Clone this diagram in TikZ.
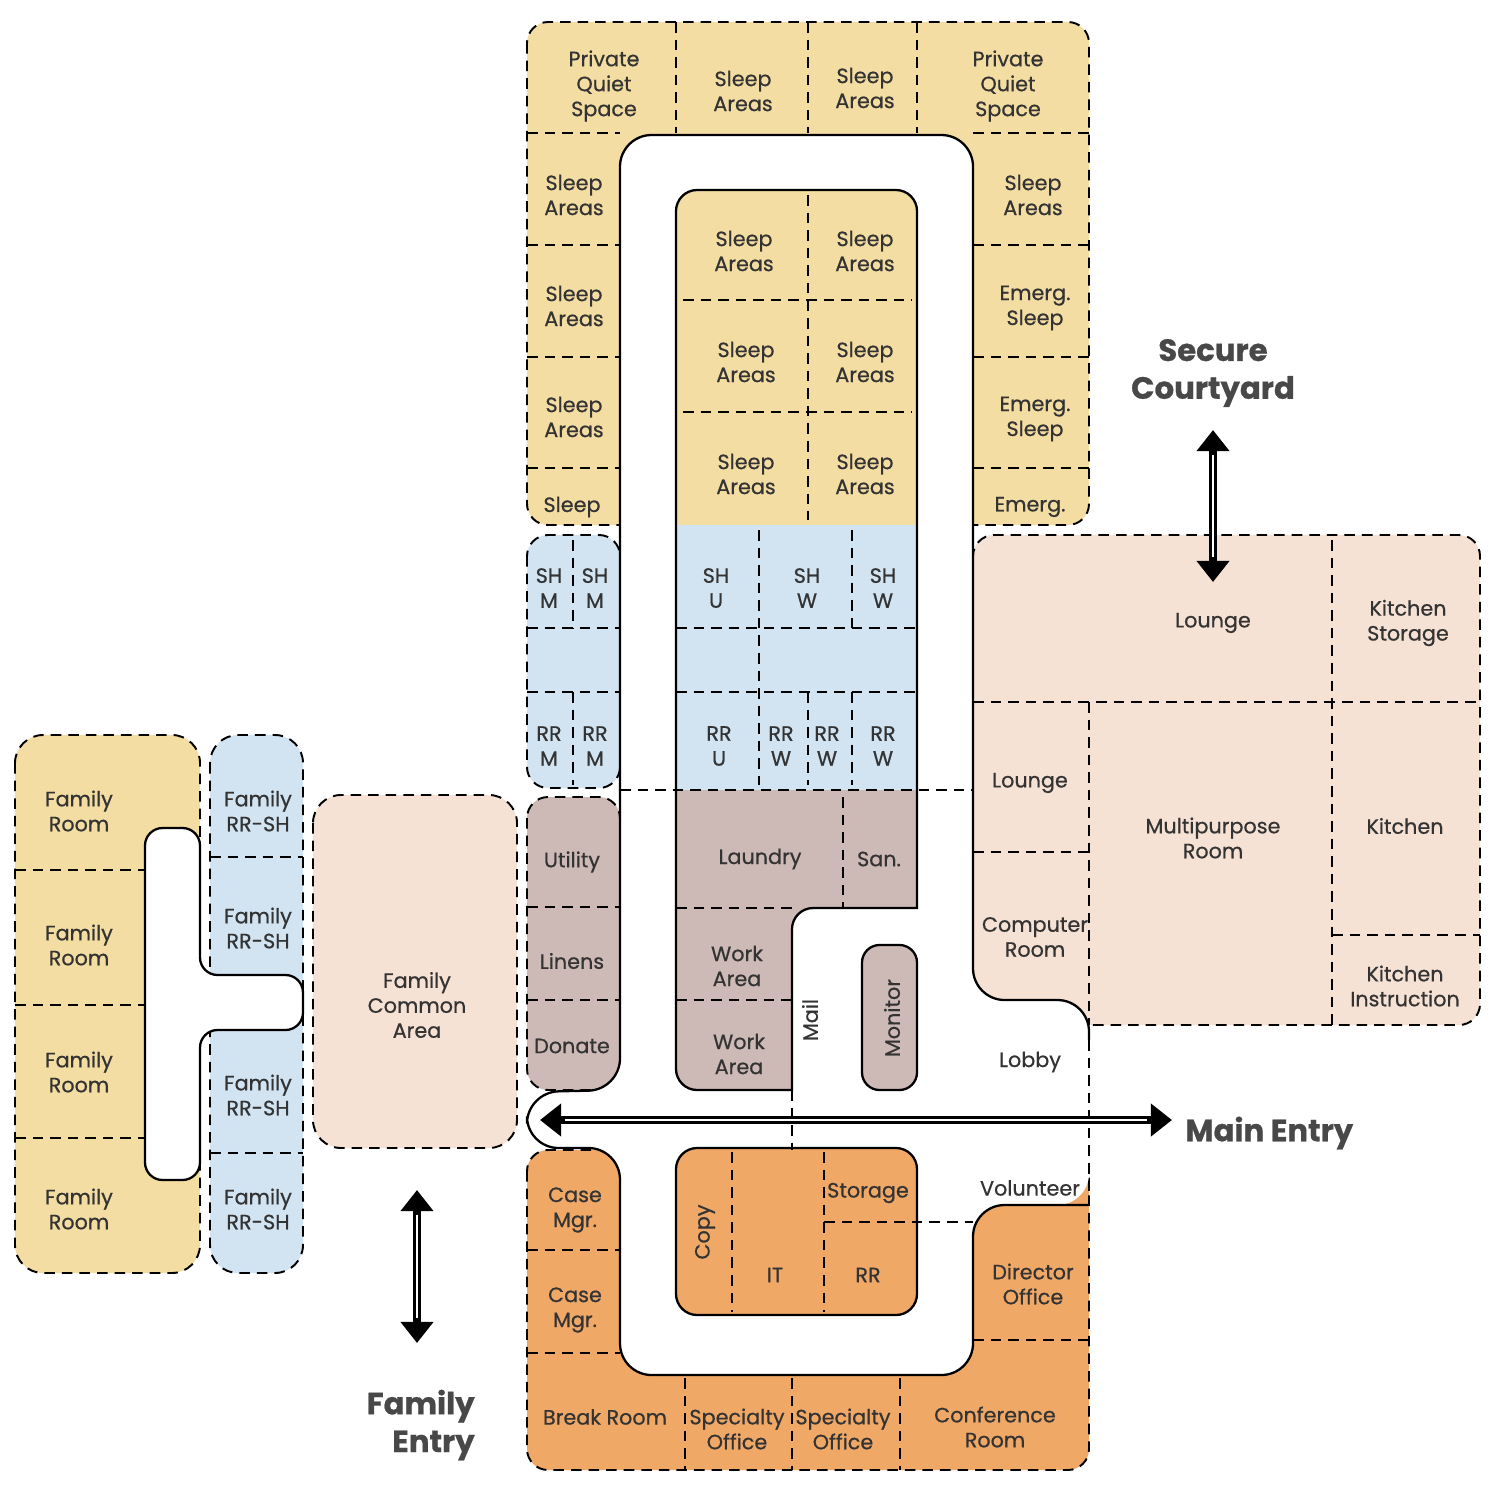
\documentclass[tikz,border=0pt]{standalone}
\usepackage{fontspec}
\setmainfont{Poppins}[FakeBold=0.6]
\usetikzlibrary{arrows.meta}
\definecolor{yel}{HTML}{F4DDA2}
\definecolor{blu}{HTML}{D2E4F2}
\definecolor{pch}{HTML}{F6E1D5}
\definecolor{brn}{HTML}{CDBAB6}
\definecolor{org}{HTML}{F0A867}
\definecolor{txt}{HTML}{333333}
\definecolor{hd}{HTML}{484848}
\begin{document}
\begin{tikzpicture}[x=0.02cm,y=-0.02cm,
 dl/.style={line width=1.1pt,dash pattern=on 6pt off 4pt},
 sl/.style={line width=1.3pt},
 room/.style={font=\fontsize{11.8}{14.2}\selectfont, text=txt, align=center, inner sep=0pt},
 head/.style={font=\fontsize{17.5}{21.5}\selectfont\bfseries, text=hd, align=center, inner sep=0pt},
 rc/.style={rounded corners=12pt},
 dar/.style={line width=4.5pt, {Triangle[width=18pt,length=12pt]}-{Triangle[width=18pt,length=12pt]}},
 dari/.style={white, line width=1.6pt, shorten <=14pt, shorten >=14pt}]
\useasboundingbox (0,0) rectangle (1500,1487);
% outer blocks
\fill[yel,rc] (527,22) rectangle (1089,525);
\draw[dl,rc] (527,22) rectangle (1089,525);
\fill[blu,rc] (527,535) rectangle (620,788);
\draw[dl,rc] (527,535) rectangle (620,788);
\fill[brn,rc] (527,797) rectangle (620,1090);
\draw[dl,rc] (527,797) rectangle (620,1090);
\fill[pch,rc] (973,535) rectangle (1480,1025);
\draw[dl,rc] (973,535) rectangle (1480,1025);
\fill[org,rc] (527,1150) rectangle (1089,1470);
\draw[dl,rc] (527,1150) rectangle (1089,1470);
% family wing
\fill[yel,rounded corners=16pt] (15,735) rectangle (200,1273);
\draw[dl,rounded corners=16pt] (15,735) rectangle (200,1273);
\fill[blu,rounded corners=16pt] (210,735) rectangle (303,1273);
\draw[dl,rounded corners=16pt] (210,735) rectangle (303,1273);
\fill[pch,rounded corners=16pt] (313,795) rectangle (517,1148);
\draw[dl,rounded corners=16pt] (313,795) rectangle (517,1148);
\filldraw[fill=white,sl,rounded corners=10pt] (145,1180) -- (145,828) -- (200,828) -- (200,975) -- (303,975) -- (303,1030) -- (200,1030) -- (200,1180) -- cycle;
\draw[dl] (15,870) -- (145,870) (15,1005) -- (145,1005) (15,1138) -- (145,1138);
\draw[dl] (210,857) -- (303,857) (210,1153) -- (303,1153);
% corridor
\fill[white,rounded corners=18pt] (620,1090) -- (620,135) -- (973,135) -- (973,1000) -- (1089,1000) -- (1089,1205) -- (973,1205) -- (973,1375) -- (620,1375) -- (620,1148) -- (527,1148) -- (527,1092) -- cycle;
\draw[sl,rounded corners=18pt] (1089,1040) -- (1089,1000) -- (973,1000) -- (973,135) -- (620,135) -- (620,1090) -- (527,1092) -- (527,1148) -- (620,1148) -- (620,1375) -- (973,1375) -- (973,1205) -- (1089,1205);
% north island
\def\islandpath{(740,1090) [rounded corners=12pt] -- (676,1090) -- (676,190) -- (917,190) [sharp corners] -- (917,908) [rounded corners=12pt] -- (792,908) [sharp corners] -- (792,1090) -- cycle}
\begin{scope}
\clip \islandpath;
\fill[yel] (676,190) rectangle (917,525);
\fill[blu] (676,525) rectangle (917,790);
\fill[brn] (676,790) rectangle (917,1090);
\end{scope}
\draw[sl] \islandpath;
\filldraw[fill=brn,sl,rounded corners=10pt] (862,945) rectangle (917,1090);
% south island
\filldraw[fill=org,sl,rc] (676,1148) rectangle (917,1315);
% dashed partitions
\draw[dl] (527,133) -- (620,133) (973,133) -- (1089,133) (676,22) -- (676,133) (808,22) -- (808,133) (917,22) -- (917,133);
\draw[dl] (527,245) -- (620,245) (527,357) -- (620,357) (527,468) -- (620,468);
\draw[dl] (973,245) -- (1089,245) (973,357) -- (1089,357) (973,468) -- (1089,468);
\draw[dl] (683,300) -- (912,300) (683,412) -- (912,412) (808,195) -- (808,520);
\draw[dl] (527,628) -- (620,628) (527,692) -- (620,692) (573,540) -- (573,628) (573,692) -- (573,785);
\draw[dl] (676,628) -- (917,628) (676,692) -- (917,692) (759,530) -- (759,785) (852,530) -- (852,628) (852,692) -- (852,785) (808,692) -- (808,785);
\draw[dl] (620,790) -- (973,790);
\draw[dl] (527,907) -- (620,907) (527,1000) -- (620,1000);
\draw[dl] (843,797) -- (843,908) (676,908) -- (792,908) (676,1000) -- (792,1000) (792,1090) -- (792,1150);
\draw[dl] (1332,540) -- (1332,1025) (973,702) -- (1480,702) (1089,702) -- (1089,1025) (973,852) -- (1089,852) (1332,935) -- (1480,935) (1089,1040) -- (1089,1205);
\draw[dl] (527,1250) -- (620,1250) (527,1353) -- (620,1353) (685,1378) -- (685,1470) (792,1378) -- (792,1470) (900,1378) -- (900,1470) (973,1340) -- (1089,1340);
\draw[dl] (732,1152) -- (732,1312) (824,1152) -- (824,1312) (824,1222) -- (973,1222);
% labels
\node[room] (pq1) at (604,86) {Private\\Quiet\\Space};
\node[room] (s1) at (743,91) {Sleep\\Areas};
\node[room] (s2) at (865,88) {Sleep\\Areas};
\node[room] (pq2) at (1008,86) {Private\\Quiet\\Space};
\node[room] (sl1) at (574,195) {Sleep\\Areas};
\node[room] (sl2) at (574,306) {Sleep\\Areas};
\node[room] (sl3) at (574,417) {Sleep\\Areas};
\node[room] (sl4) at (572,507) {Sleep};
\node[room] (sr1) at (1033,195) {Sleep\\Areas};
\node[room] (er1) at (1035,308) {Emerg.\\Sleep};
\node[room] (er2) at (1035,419) {Emerg.\\Sleep};
\node[room] (er3) at (1030,507) {Emerg.};
\node[room] (i1) at (744,251) {Sleep\\Areas};
\node[room] (i2) at (865,251) {Sleep\\Areas};
\node[room] (i3) at (746,362) {Sleep\\Areas};
\node[room] (i4) at (865,362) {Sleep\\Areas};
\node[room] (i5) at (746,474) {Sleep\\Areas};
\node[room] (i6) at (865,474) {Sleep\\Areas};
\node[room] (b1) at (549,588) {SH\\M};
\node[room] (b2) at (595,588) {SH\\M};
\node[room] (b3) at (549,746) {RR\\M};
\node[room] (b4) at (595,746) {RR\\M};
\node[room] (b5) at (716,588) {SH\\U};
\node[room] (b6) at (807,588) {SH\\W};
\node[room] (b7) at (883,588) {SH\\W};
\node[room] (b8) at (719,746) {RR\\U};
\node[room] (b9) at (781,746) {RR\\W};
\node[room] (b10) at (827,746) {RR\\W};
\node[room] (b11) at (883,746) {RR\\W};
\node[room] (u1) at (572,862) {Utility};
\node[room] (u2) at (572,961) {Linens};
\node[room] (u3) at (572,1046) {Donate};
\node[room] (u4) at (760,859) {Laundry};
\node[room] (u5) at (879,859) {San.};
\node[room] (u6) at (737,966) {Work\\Area};
\node[room] (u7) at (739,1054) {Work\\Area};
\node[room,rotate=90] (u8) at (810,1020) {Mail};
\node[room,rotate=90] (u9) at (892,1018) {Monitor};
\node[room] (p1) at (1213,623) {Lounge};
\node[room] (p2) at (1408,623) {Kitchen\\Storage};
\node[room] (p3) at (1030,783) {Lounge};
\node[room] (p4) at (1213,838) {Multipurpose\\Room};
\node[room] (p5) at (1405,826) {Kitchen};
\node[room] (p6) at (1035,937) {Computer\\Room};
\node[room] (p7) at (1405,986) {Kitchen\\Instruction};
\node[room] (l1) at (1030,1062) {Lobby};
\node[room] (l2) at (1030,1188) {Volunteer};
\node[room] (o1) at (575,1210) {Case\\Mgr.};
\node[room] (o2) at (575,1310) {Case\\Mgr.};
\node[room] (o3) at (605,1417) {Break Room};
\node[room] (o4) at (737,1429) {Specialty\\Office};
\node[room] (o5) at (843,1429) {Specialty\\Office};
\node[room] (o6) at (995,1427) {Conference\\Room};
\node[room] (o7) at (1033,1284) {Director\\Office};
\node[room,rotate=90] (o8) at (705,1232) {Copy};
\node[room] (o9) at (775,1275) {IT};
\node[room] (o10) at (868,1193) {Storage};
\node[room] (o11) at (868,1275) {RR};
\node[room] (f1) at (79,811) {Family\\Room};
\node[room] (f2) at (79,945) {Family\\Room};
\node[room] (f3) at (79,1072) {Family\\Room};
\node[room] (f4) at (79,1209) {Family\\Room};
\node[room] (f5) at (258,811) {Family\\RR-SH};
\node[room] (f6) at (258,928) {Family\\RR-SH};
\node[room] (f7) at (258,1095) {Family\\RR-SH};
\node[room] (f8) at (258,1209) {Family\\RR-SH};
\node[room] (f9) at (417,1005) {Family\\Common\\Area};
\node[head] (h1) at (1213,373) {Secure\\Courtyard};
\node[head,anchor=west] (h2) at (1185,1133) {Main Entry};
\node[head,align=right,anchor=east] (h3) at (475,1425) {Family\\Entry};
% arrows
\coordinate (a1) at (1213,430); \coordinate (a2) at (1213,582);
\coordinate (a3) at (417,1190); \coordinate (a4) at (417,1343);
\coordinate (a5) at (540,1120); \coordinate (a6) at (1172,1120);
\draw[dar] (a1) -- (a2); \draw[dari] (a1) -- (a2);
\draw[dar] (a3) -- (a4); \draw[dari] (a3) -- (a4);
\draw[dar] (a5) -- (a6); \draw[dari] (a5) -- (a6);
\end{tikzpicture}
\end{document}
